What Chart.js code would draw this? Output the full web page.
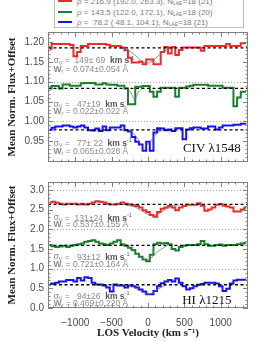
<!DOCTYPE html>
<html><head><meta charset="utf-8">
<script src="https://cdn.jsdelivr.net/npm/chart.js@4/dist/chart.umd.min.js"></script>
<style>
html,body{margin:0;padding:0;background:#fff;width:264px;height:341px;overflow:hidden;position:relative;font-family:'Liberation Sans',sans-serif}
#c1{position:absolute;left:0;top:0}
#c2{position:absolute;left:0;top:172px}
#legend{position:absolute;left:54px;top:-8px;width:188px;height:34px;border:1px solid #bdbdbd;background:#fff;z-index:2}
.row{position:absolute;left:3px;height:10px;line-height:10px;font-size:8px;color:#7a7a7a;white-space:pre}
.sw{display:inline-block;width:14px;height:2px;vertical-align:middle;margin-right:5px;position:relative;top:-1px}
.row sub{font-size:5px;vertical-align:-1px;line-height:0}
</style></head>
<body>
<div id="legend">
 <div class="row" style="top:4px"><span class="sw" style="background:#f02a2a"></span><i>ρ</i> = 216.9 (192.0, 263.3), N<sub>LAE</sub>=18 (21)</div>
 <div class="row" style="top:15px"><span class="sw" style="background:#1d7d2e"></span><i>ρ</i> = 143.5 (122.0, 172.1), N<sub>LAE</sub>=18 (20)</div>
 <div class="row" style="top:25px"><span class="sw" style="background:#1414f5"></span><i>ρ</i> =  78.2 ( 48.1, 104.1), N<sub>LAE</sub>=18 (21)</div>
</div>
<canvas id="c1" width="264" height="172"></canvas>
<canvas id="c2" width="264" height="169"></canvas>
<script>
// ---------- data ----------
const velocity = [-1350,-1300,-1250,-1200,-1150,-1100,-1050,-1000,-950,-900,-850,-800,-750,-700,-650,-600,-550,-500,-450,-400,-350,-300,-250,-200,-150,-100,-50,0,50,100,150,200,250,300,350,400,450,500,550,600,650,700,750,800,850,900,950,1000,1050,1100,1150,1200,1250,1300,1350];

const civRed   = [1.183,1.195,1.195,1.195,1.195,1.195,1.192,1.164,1.175,1.19,1.19,1.195,1.195,1.195,1.195,1.195,1.193,1.19,1.19,1.19,1.186,1.179,1.16,1.148,1.148,1.15,1.144,1.156,1.156,1.144,1.144,1.175,1.187,1.171,1.187,1.167,1.18,1.186,1.186,1.186,1.186,1.186,1.178,1.19,1.19,1.19,1.19,1.19,1.19,1.195,1.19,1.19,1.19,1.197,1.197];
const civGreen = [1.083,1.089,1.089,1.083,1.093,1.093,1.09,1.09,1.09,1.096,1.097,1.097,1.097,1.093,1.093,1.096,1.093,1.092,1.092,1.09,1.09,1.083,1.043,1.043,1.087,1.087,1.089,1.089,1.075,1.062,1.075,1.085,1.085,1.085,1.085,1.062,1.085,1.085,1.088,1.09,1.092,1.092,1.092,1.092,1.09,1.09,1.09,1.09,1.085,1.085,1.085,1.038,1.06,1.075,1.075];
const civBlue  = [0.979,0.984,0.987,0.987,0.99,0.99,0.987,0.985,0.987,0.99,0.985,0.978,0.977,0.982,0.976,0.987,0.978,0.985,0.985,0.985,0.99,0.978,0.975,0.961,0.949,0.942,0.926,0.949,0.926,0.972,0.983,0.982,0.978,0.98,0.976,0.983,0.983,0.955,0.98,0.983,0.985,0.985,0.982,0.982,0.987,0.987,0.98,0.985,0.99,0.99,0.99,0.992,0.992,0.994,0.994];

const hiRed   = [2.68,2.70,2.67,2.65,2.63,2.65,2.65,2.65,2.63,2.65,2.63,2.65,2.68,2.71,2.70,2.68,2.65,2.63,2.63,2.65,2.68,2.65,2.63,2.61,2.59,2.55,2.48,2.44,2.36,2.32,2.44,2.52,2.55,2.59,2.55,2.48,2.55,2.59,2.62,2.62,2.62,2.66,2.60,2.47,2.50,2.55,2.62,2.64,2.60,2.58,2.55,2.45,2.45,2.50,2.55];
const hiGreen = [1.60,1.57,1.55,1.56,1.58,1.55,1.58,1.60,1.62,1.64,1.68,1.70,1.72,1.68,1.64,1.62,1.60,1.64,1.68,1.72,1.62,1.58,1.53,1.47,1.38,1.30,1.23,1.19,1.35,1.62,1.66,1.64,1.65,1.62,1.50,1.46,1.55,1.58,1.60,1.60,1.60,1.62,1.70,1.62,1.58,1.58,1.60,1.61,1.58,1.60,1.60,1.60,1.62,1.64,1.66];
const hiBlue  = [0.61,0.62,0.64,0.67,0.67,0.71,0.71,0.67,0.76,0.70,0.78,0.76,0.64,0.60,0.60,0.57,0.52,0.42,0.60,0.57,0.57,0.52,0.57,0.55,0.52,0.47,0.42,0.35,0.35,0.43,0.55,0.63,0.67,0.71,0.67,0.75,0.64,0.55,0.47,0.50,0.55,0.59,0.61,0.64,0.64,0.64,0.62,0.55,0.43,0.49,0.62,0.70,0.72,0.72,0.72];

// continuum levels (dashed lines)
const civContinuum = [1.185, 1.083, 0.979];
const hiContinuum  = [2.63, 1.59, 0.59];

// Gaussian-fit curves (sampled off the figure)
const civFitRed   = [[-400,1.185],[-300,1.181],[-200,1.170],[-100,1.154],[-20,1.147],[60,1.152],[160,1.168],[260,1.180],[360,1.185]];
const civFitGreen = [[-300,1.084],[-240,1.074],[-185,1.056],[-130,1.074],[-70,1.084]];
const civFitBlue  = [[-260,0.979],[-160,0.962],[-60,0.935],[40,0.952],[140,0.973],[240,0.979]];
const hiFitRed    = [[-350,2.63],[-200,2.58],[-80,2.46],[20,2.36],[75,2.34],[170,2.42],[280,2.55],[420,2.62]];
const hiFitGreen  = [[-320,1.58],[-200,1.45],[-100,1.29],[-30,1.22],[40,1.27],[140,1.44],[250,1.57]];
const hiFitBlue   = [[-260,0.59],[-150,0.48],[-40,0.37],[40,0.36],[140,0.48],[250,0.59]];

// axis settings
const velRange = [-1375, 1375];
const civRange = [0.898, 1.225];
const hiRange  = [0, 3.2];
const civTicks = [0.95, 1.00, 1.05, 1.10, 1.15, 1.20];
const hiTicks  = [0.0, 0.5, 1.0, 1.5, 2.0, 2.5, 3.0];
const xTicks   = [-1000, -500, 0, 500, 1000];
const civGrid  = [1.00, 1.10];
const hiGrid   = [1.0, 2.0, 3.0];

// annotation values
const civNotes = [["149± 69","0.074±0.054"],[" 47±19","0.022±0.022"],[" 77± 22","0.065±0.028"]];
const hiNotes  = [["131±24","0.537±0.155"],[" 93±12","0.721±0.164"],[" 94±26","0.469±0.220"]];

// ---------- drawing ----------
const RED = '#f02a2a', GREEN = '#1d7d2e', BLUE = '#1414f5';
Chart.defaults.font.family = "'Liberation Sans', sans-serif";

function pts(arr){ return velocity.map((v,i)=>({x:v, y:arr[i]})); }
function pairPts(arr){ return arr.map(p=>({x:p[0], y:p[1]})); }

function sigmaParts(val){
  return [
    {t:'σ', f:"8.5px 'DejaVu Sans'", c:'#8a8a8a'},
    {t:'V', f:"5.5px 'Liberation Sans'", c:'#8a8a8a', dy:2},
    {t:' =  '+val+'  ', f:"8.5px 'Liberation Sans'", c:'#8a8a8a'},
    {t:'km s', f:"bold 8.5px 'Liberation Sans'", c:'#555'},
    {t:'-1', f:"5.5px 'Liberation Sans'", c:'#555', dy:-3}
  ];
}
function wParts(val){
  return [
    {t:'W', f:"bold 8.5px 'Liberation Sans'", c:'#8a8a8a'},
    {t:'r', f:"5.5px 'Liberation Sans'", c:'#8a8a8a', dy:2},
    {t:' = '+val+' Å', f:"8.5px 'Liberation Sans'", c:'#8a8a8a'}
  ];
}
function drawParts(ctx, x, y, parts){
  let cx = x;
  parts.forEach(p=>{ ctx.font = p.f; ctx.fillStyle = p.c; ctx.fillText(p.t, cx, y + (p.dy||0)); cx += ctx.measureText(p.t).width; });
}

const panelPlugin = {
  id: 'panel',
  beforeDatasetsDraw(chart, args, o){
    const {ctx, chartArea:a, scales:{y}} = chart;
    ctx.save();
    ctx.strokeStyle = '#a0a0a0'; ctx.lineWidth = 1; ctx.setLineDash([1,2]);
    o.grid.forEach(g=>{
      const py = Math.round(y.getPixelForValue(g)) + 0.5;
      ctx.beginPath(); ctx.moveTo(a.left, py); ctx.lineTo(a.right, py); ctx.stroke();
    });
    ctx.restore();
  },
  afterDatasetsDraw(chart, args, o){
    const {ctx, chartArea:a, scales:{x, y}} = chart;
    ctx.save();
    ctx.strokeStyle = '#808080'; ctx.lineWidth = 1;
    ctx.strokeRect(a.left + 0.5, a.top + 0.5, a.right - a.left - 1, a.bottom - a.top - 1);
    const line = (x1,y1,x2,y2)=>{ ctx.beginPath(); ctx.moveTo(x1,y1); ctx.lineTo(x2,y2); ctx.stroke(); };
    // x ticks (minor 100, major 500)
    for (let i = Math.ceil(velRange[0]/100); i <= Math.floor(velRange[1]/100); i++){
      const px = Math.round(x.getPixelForValue(i*100)) + 0.5;
      const L = (i % 5 === 0) ? 5 : 2.5;
      line(px, a.bottom, px, a.bottom - L);
      line(px, a.top, px, a.top + L);
    }
    // y ticks
    const r = o.range, mn = o.minor, every = o.every;
    for (let i = Math.ceil(r[0]/mn - 1e-6); i <= Math.floor(r[1]/mn + 1e-6); i++){
      const py = Math.round(y.getPixelForValue(i*mn)) + 0.5;
      const L = (i % every === 0) ? 5 : 2.5;
      line(a.left, py, a.left + L, py);
      line(a.right, py, a.right - L, py);
    }
    // annotations
    ctx.textBaseline = 'middle'; ctx.textAlign = 'left';
    o.notes.forEach(n=>{
      const px = x.getPixelForValue(n.x);
      drawParts(ctx, px, y.getPixelForValue(n.y1), sigmaParts(n.s));
      drawParts(ctx, px, y.getPixelForValue(n.y2), wParts(n.w));
    });
    ctx.font = "13px 'Liberation Serif'"; ctx.fillStyle = '#111';
    ctx.fillText(o.label.t, x.getPixelForValue(o.label.x), y.getPixelForValue(o.label.y));
    ctx.restore();
  }
};

function datasets(cont, fits, spectra){
  const ds = [];
  cont.forEach(lvl=>ds.push({data:[{x:velRange[0],y:lvl},{x:velRange[1],y:lvl}], borderColor:'#000', borderWidth:1.3, borderDash:[3,2.5], pointRadius:0}));
  fits.forEach(f=>ds.push({data:pairPts(f), borderColor:'#707070', borderWidth:0.8, pointRadius:0, tension:0.4}));
  spectra.forEach(s=>ds.push({data:pts(s.d), borderColor:s.c, borderWidth:2, pointRadius:0, stepped:'middle'}));
  return ds;
}

function yScale(range, ticks, dec){
  return {
    type:'linear', min:range[0], max:range[1],
    afterBuildTicks: s=>{ s.ticks = ticks.map(v=>({value:v})); },
    afterFit: s=>{ s.width = 48; },
    ticks:{ callback:v=>Number(v).toFixed(dec), font:{size:10}, color:'#4a4a4a', padding:4 },
    grid:{ display:false, drawTicks:false }, border:{ display:false },
    title:{ display:true, text:'Mean Norm. Flux+Offset', font:{family:"'Liberation Serif'", weight:'bold', size:11}, color:'#222', padding:{top:6,bottom:0} }
  };
}

new Chart(document.getElementById('c1'), {
  type:'line',
  data:{ datasets: datasets(civContinuum, [civFitRed, civFitGreen, civFitBlue], [{d:civRed,c:RED},{d:civGreen,c:GREEN},{d:civBlue,c:BLUE}]) },
  options:{
    responsive:false, animation:false, events:[],
    layout:{ padding:{top:32, right:16, left:0, bottom:0} },
    scales:{
      x:{ type:'linear', min:velRange[0], max:velRange[1], display:false },
      y: yScale(civRange, civTicks, 2)
    },
    plugins:{
      legend:{display:false}, tooltip:{enabled:false},
      panel:{
        grid: civGrid, range: civRange, minor: 0.01, every: 5,
        notes:[
          {x:-1300, y1:1.152, y2:1.131, s:civNotes[0][0], w:civNotes[0][1]},
          {x:-1300, y1:1.043, y2:1.025, s:civNotes[1][0], w:civNotes[1][1]},
          {x:-1300, y1:0.944, y2:0.924, s:civNotes[2][0], w:civNotes[2][1]}
        ],
        label:{t:'CIV λ1548', x:480, y:0.931}
      }
    }
  },
  plugins:[panelPlugin]
});

new Chart(document.getElementById('c2'), {
  type:'line',
  data:{ datasets: datasets(hiContinuum, [hiFitRed, hiFitGreen, hiFitBlue], [{d:hiRed,c:RED},{d:hiGreen,c:GREEN},{d:hiBlue,c:BLUE}]) },
  options:{
    responsive:false, animation:false, events:[],
    layout:{ padding:{top:0, right:16, left:0, bottom:0} },
    scales:{
      x:{ type:'linear', min:velRange[0], max:velRange[1],
          afterBuildTicks: s=>{ s.ticks = xTicks.map(v=>({value:v})); },
          afterFit: s=>{ s.height = 33; },
          ticks:{ callback:v=>String(v).replace('-','\u2212'), font:{size:10}, color:'#4a4a4a', padding:9, maxRotation:0 },
          grid:{ display:false, drawTicks:false }, border:{ display:false },
          title:{ display:true, text:'LOS Velocity (km s\u207B\u00B9)', font:{family:"'Liberation Serif'", weight:'bold', size:11}, color:'#222', padding:{top:0,bottom:1} }
      },
      y: yScale(hiRange, hiTicks, 1)
    },
    plugins:{
      legend:{display:false}, tooltip:{enabled:false},
      panel:{
        grid: hiGrid, range: hiRange, minor: 0.1, every: 5,
        notes:[
          {x:-1300, y1:2.28, y2:2.11, s:hiNotes[0][0], w:hiNotes[0][1]},
          {x:-1300, y1:1.29, y2:1.11, s:hiNotes[1][0], w:hiNotes[1][1]},
          {x:-1300, y1:0.29, y2:0.11, s:hiNotes[2][0], w:hiNotes[2][1]}
        ],
        label:{t:'HI λ1215', x:470, y:0.2}
      }
    }
  },
  plugins:[panelPlugin]
});
</script>
</body></html>
